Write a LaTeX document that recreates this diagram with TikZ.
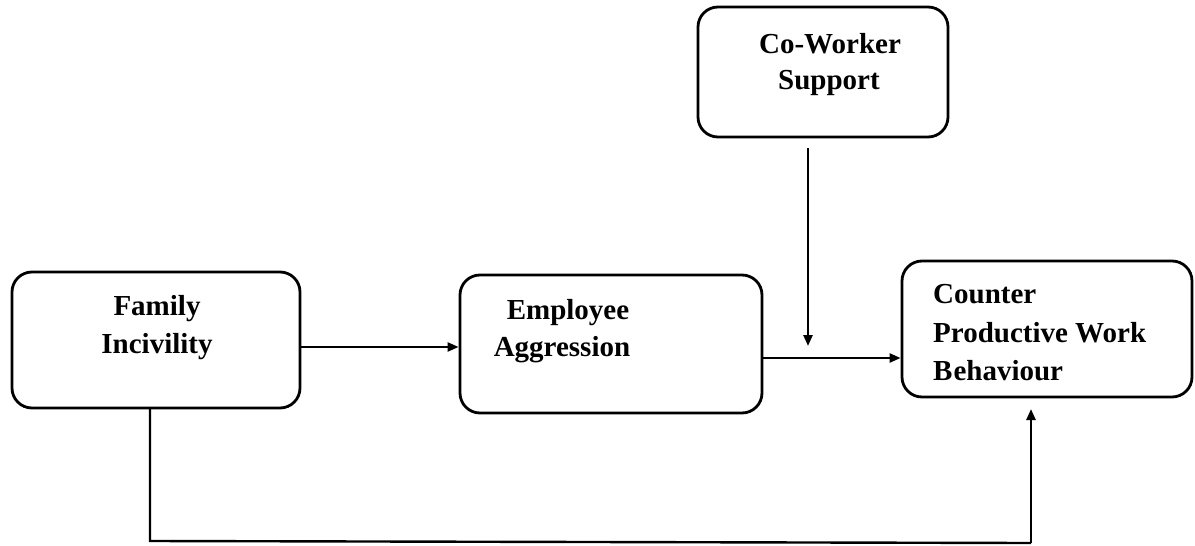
\documentclass[tikz,border=0pt]{standalone}
\usepackage{fontspec}
\setmainfont{Liberation Serif}
\usetikzlibrary{arrows.meta}
\tikzset{
  box/.style={draw, line width=2.8pt, rounded corners=20pt, inner sep=0pt},
  lbl/.style={font=\fontsize{29}{38}\selectfont\bfseries, inner sep=0pt, anchor=base},
  arr/.style={line width=2.4pt, -{Triangle[length=11pt,width=9pt]}},
  ln/.style={line width=2.4pt}
}
\begin{document}
\begin{tikzpicture}[x=1pt,y=-1pt]
\useasboundingbox (0,0) rectangle (1195,546);
% boxes
\node[box, minimum width=288pt, minimum height=136pt] (fam) at (156,340) {};
\node[box, minimum width=302pt, minimum height=138pt] (emp) at (611,344) {};
\node[box, minimum width=250pt, minimum height=130pt] (cw)  at (823,72) {};
\node[box, minimum width=290pt, minimum height=136pt] (cpwb) at (1047,329) {};
% texts
\node[lbl] (famt1) at (157,315) {Family};
\node[lbl] (famt2) at (157,353) {Incivility};
\node[lbl] (empt1) at (568,319) {Employee};
\node[lbl] (empt2) at (562,356) {Aggression};
\node[lbl] (cwt1) at (830,53) {Co-Worker};
\node[lbl] (cwt2) at (829,89) {Support};
\node[lbl, anchor=base west] (cpt1) at (933,303) {Counter};
\node[lbl, anchor=base west] (cpt2) at (933,342) {Productive Work};
\node[lbl, anchor=base west] (cpt3) at (933,380) {B\kern1pt ehaviour};
% connectors
\draw[arr] ([yshift=-7pt]fam.east) -- ([yshift=-7pt]fam.east -| emp.west);
\draw[arr] ([yshift=-14pt]emp.east) -- ([yshift=-14pt]emp.east -| cpwb.west);
\coordinate (cwstart) at (808,148);
\coordinate (cwend) at (808,346);
\draw[arr] (cwstart) -- (cwend);
\coordinate (famdown) at (150,408);
\coordinate (c1) at (150,541);
\coordinate (c2) at (1031,543);
\coordinate (cpup) at (1031,409);
\draw[ln] (famdown) -- (c1) -- (c2);
\draw[arr] (c2) -- (cpup);
\end{tikzpicture}
\end{document}
